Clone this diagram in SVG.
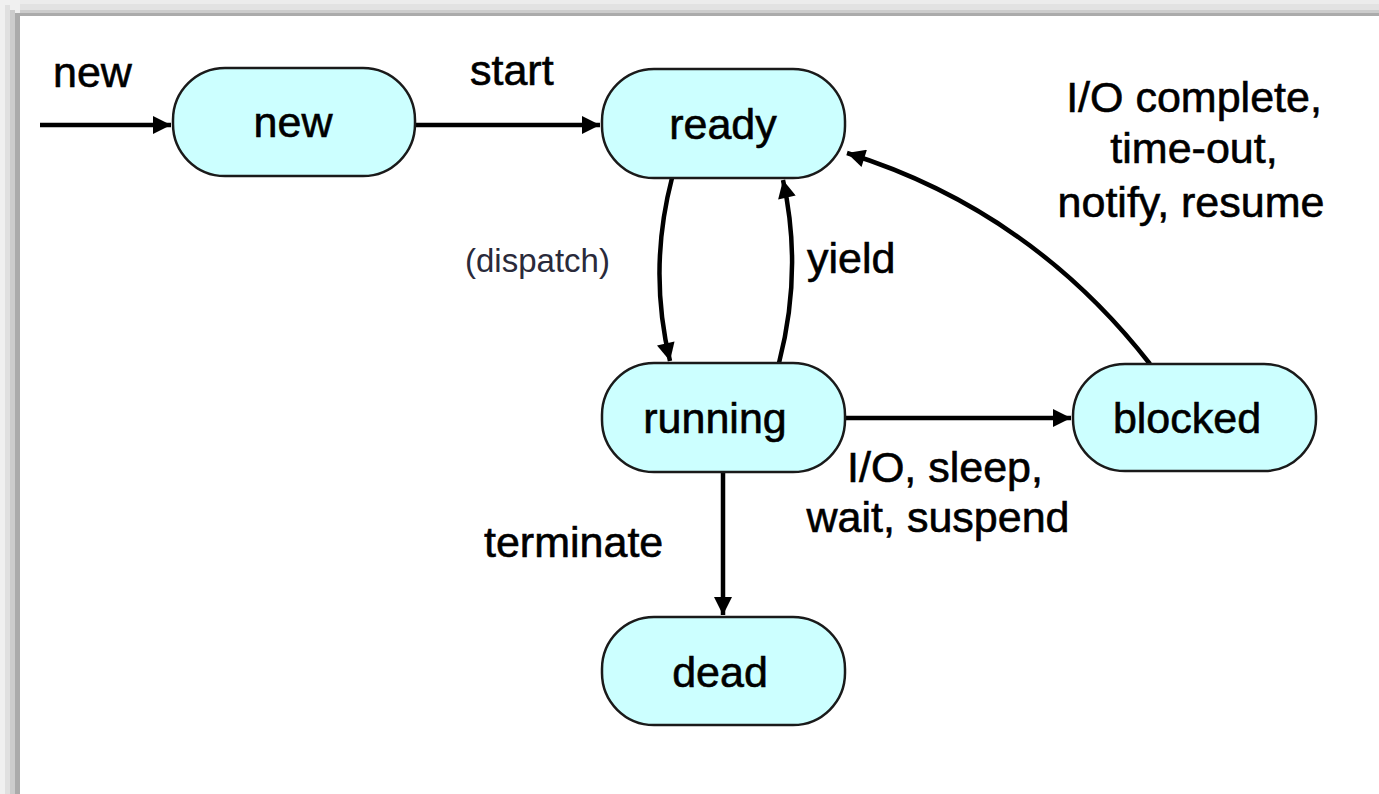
<svg xmlns="http://www.w3.org/2000/svg" width="1379" height="794" viewBox="0 0 1379 794">
<style>
.node rect{fill:#ccffff;stroke:#1a1a1a;stroke-width:2.5}
.node text{font-family:"Liberation Sans",Arial,sans-serif;font-size:43px;fill:#000;stroke:#000;stroke-width:0.6;text-anchor:middle}
.lbl{font-family:"Liberation Sans",Arial,sans-serif;font-size:43px;fill:#000;stroke:#000;stroke-width:0.6}
.edge{fill:none;stroke:#000;stroke-width:4.5;marker-end:url(#ah)}
</style>
<defs>
<marker id="ah" viewBox="0 0 10 10" refX="10" refY="5" markerWidth="4.8" markerHeight="4" orient="auto" markerUnits="strokeWidth">
<path d="M0,0 L10,5 L0,10 z" fill="#000"/>
</marker>
</defs>
<rect x="0" y="0" width="1379" height="794" fill="#fff"/>
<g id="frame">
<rect x="0" y="0" width="1379" height="16" fill="#ececec"/>
<rect x="0" y="4" width="1379" height="6" fill="#e2e2e2"/>
<rect x="0" y="10" width="1379" height="3" fill="#cccccc"/>
<rect x="0" y="13" width="1379" height="3" fill="#ababab"/>
<rect x="0" y="0" width="20" height="794" fill="#f0f0f0"/>
<rect x="5" y="5" width="5" height="789" fill="#e0e0e0"/>
<rect x="10" y="10" width="5" height="784" fill="#cccccc"/>
<rect x="15" y="13" width="5" height="781" fill="#ababab"/>
</g>
<g id="connectors">
<path class="edge" d="M40,125 L171,125"/>
<path class="edge" d="M415,125 L600,125"/>
<path class="edge" d="M672,178 Q648,270 670,361"/>
<path class="edge" d="M779,363 Q803,270 783,180"/>
<path class="edge" d="M1150,364 Q1030,210 847,153"/>
<path class="edge" d="M845,418 L1071,418"/>
<path class="edge" d="M723,472 L723,615"/>
</g>
<g id="labels">
<text class="lbl" x="53" y="87">new</text>
<text class="lbl" x="470" y="85">start</text>
<text x="465" y="272" style="font-family:'Liberation Sans',Arial,sans-serif;font-size:33px;fill:#2a2a3a">(dispatch)</text>
<text class="lbl" x="807" y="273">yield</text>
<text class="lbl" text-anchor="middle" x="1194" y="112">I/O complete,</text>
<text class="lbl" text-anchor="middle" x="1194" y="163">time-out,</text>
<text class="lbl" text-anchor="middle" x="1191" y="217">notify, resume</text>
<text class="lbl" text-anchor="middle" x="945" y="482">I/O, sleep,</text>
<text class="lbl" text-anchor="middle" x="938" y="532">wait, suspend</text>
<text class="lbl" x="484" y="557">terminate</text>
</g>
<g id="node-new" class="node"><rect x="173" y="68" width="242" height="108" rx="52" ry="52"/><text x="293" y="137">new</text></g>
<g id="node-ready" class="node"><rect x="602" y="69" width="243" height="109" rx="52" ry="52"/><text x="723" y="139">ready</text></g>
<g id="node-running" class="node"><rect x="602" y="363" width="243" height="109" rx="52" ry="52"/><text x="715" y="433">running</text></g>
<g id="node-blocked" class="node"><rect x="1073" y="364" width="243" height="107" rx="52" ry="52"/><text x="1187" y="433">blocked</text></g>
<g id="node-dead" class="node"><rect x="602" y="617" width="243" height="108" rx="52" ry="52"/><text x="720" y="687">dead</text></g>
</svg>
